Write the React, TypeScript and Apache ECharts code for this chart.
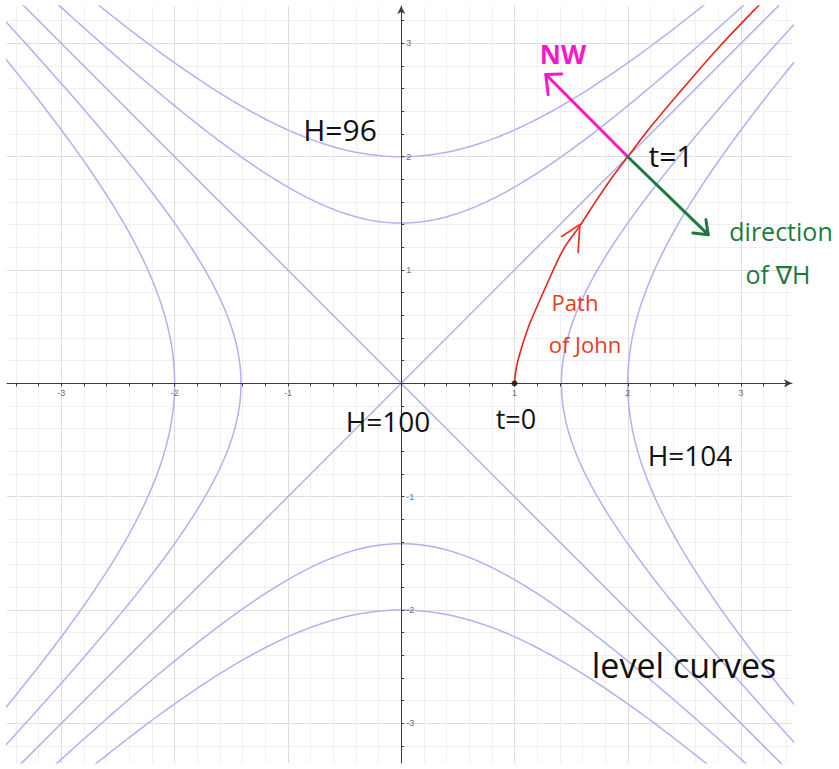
import React, { useEffect, useRef } from "react";
import * as echarts from "echarts";

// ---- data ----
// Level curves of H(x, y) = 100 + x^2 - y^2
const LEVELS = [96, 98, 100, 102, 104];
const H_BASE = 100;

// Path of John
const PATH_X = [1.0, 1.01, 1.03, 1.077, 1.136, 1.253, 1.43, 1.577, 1.72, 1.857, 2.0, 2.224, 2.519, 2.813, 3.151, 3.3];
const PATH_Y = [0.0, 0.1, 0.2, 0.36, 0.53, 0.8, 1.18, 1.39, 1.61, 1.81, 2.0, 2.29, 2.64, 2.975, 3.33, 3.48];

// Start point (t = 0)
const START = [1, 0];

// Direction arrows at t = 1
const NW_ARROW = [[2, 2], [1.277, 2.725]];
const NW_HEAD = [[1.416, 2.731], [1.277, 2.725], [1.297, 2.548]];
const GRAD_ARROW = [[2, 2], [2.71, 1.312]];
const GRAD_HEAD = [[2.69, 1.445], [2.71, 1.312], [2.575, 1.327]];
const PATH_HEAD = [[1.416, 1.297], [1.577, 1.401], [1.562, 1.156]];

// Axis tick labels
const X_TICK_LABELS = [-3, -2, -1, 1, 2, 3];
const Y_TICK_LABELS = [-3, -2, -1, 1, 2, 3];
const MAJOR_GRID = [-3, -2, -1, 0, 1, 2, 3];

// ---- layout ----
const XMIN = -3.48, XMAX = 3.45, YMIN = -3.35, YMAX = 3.33;
const CURVE_COLOR = "#b1b1f2";
const HAND_FONT = "'Open Sans', 'DejaVu Sans', sans-serif";
const TICK_FONT = "'Liberation Sans', Arial, sans-serif";

function steps(min: number, max: number, skipIntegers: boolean, skipZero: boolean) {
  const out: number[] = [];
  for (let k = Math.ceil(min * 5); k <= Math.floor(max * 5); k++) {
    if (skipIntegers && k % 5 === 0) continue;
    if (skipZero && k === 0) continue;
    out.push(Math.round(k * 20) / 100);
  }
  return out;
}

function levelBranches(level: number): number[][][] {
  const c = level - H_BASE;
  const us: number[] = [];
  for (let i = -130; i <= 130; i++) us.push(i / 50);
  if (c === 0) {
    return [
      [[-4, -4], [4, 4]],
      [[-4, 4], [4, -4]],
    ];
  }
  const a = Math.sqrt(Math.abs(c));
  if (c > 0) {
    return [
      us.map((u) => [a * Math.cosh(u), a * Math.sinh(u)]),
      us.map((u) => [-a * Math.cosh(u), a * Math.sinh(u)]),
    ];
  }
  return [
    us.map((u) => [a * Math.sinh(u), a * Math.cosh(u)]),
    us.map((u) => [a * Math.sinh(u), -a * Math.cosh(u)]),
  ];
}

function gridAxis(min: number, max: number, values: number[], color: string, position: string) {
  return {
    type: "value",
    min,
    max,
    position,
    axisLine: { show: false, onZero: false },
    axisTick: { show: false, customValues: values },
    axisLabel: { show: false },
    splitLine: { show: true, lineStyle: { color, width: 1 } },
  };
}

export default function App() {
  const ref = useRef<HTMLDivElement>(null);

  useEffect(() => {
    if (!ref.current) return;
    const chart = echarts.init(ref.current, null, { renderer: "svg" });

    const series: any[] = [];
    LEVELS.forEach((lv) => {
      levelBranches(lv).forEach((pts, i) => {
        series.push({
          type: "line",
          name: "H=" + lv + "-" + i,
          data: pts,
          showSymbol: false,
          silent: true,
          clip: true,
          lineStyle: { color: CURVE_COLOR, width: 1.5 },
          z: 3,
        });
      });
    });

    series.push({
      type: "line",
      name: "Path of John",
      data: PATH_X.map((x, i) => [x, PATH_Y[i]]),
      showSymbol: false,
      smooth: 0.3,
      clip: true,
      silent: true,
      lineStyle: { color: "#e8231c", width: 1.6 },
      z: 5,
    });

    const seg = (name: string, data: number[][], color: string, width: number) => ({
      type: "line",
      name,
      data,
      showSymbol: false,
      silent: true,
      clip: false,
      lineStyle: { color, width, cap: "round", join: "round" },
      z: 6,
    });
    series.push(seg("NW", NW_ARROW, "#f719c6", 3));
    series.push(seg("NW head", NW_HEAD, "#f719c6", 3));
    series.push(seg("grad", GRAD_ARROW, "#1c7a3e", 3));
    series.push(seg("grad head", GRAD_HEAD, "#1c7a3e", 3));
    series.push(seg("path head", PATH_HEAD, "#ea3a22", 1.8));

    series.push({
      type: "scatter",
      name: "start",
      data: [START],
      symbolSize: 6,
      itemStyle: { color: "#111" },
      silent: true,
      z: 7,
    });

    // tick labels placed on the axes through the origin
    series.push({
      type: "scatter",
      name: "x tick labels",
      data: X_TICK_LABELS.map((v) => [v, 0]),
      symbolSize: 0,
      silent: true,
      z: 8,
      label: {
        show: true,
        position: "bottom",
        distance: 5,
        formatter: (p: any) => String(p.value[0]),
        fontSize: 9,
        color: "#444",
        fontFamily: TICK_FONT,
      },
    });
    series.push({
      type: "scatter",
      name: "y tick labels",
      data: Y_TICK_LABELS.map((v) => [0, v]),
      symbolSize: 0,
      silent: true,
      z: 8,
      label: {
        show: true,
        position: "right",
        distance: 5,
        formatter: (p: any) => String(p.value[1]),
        fontSize: 9,
        color: "#444",
        fontFamily: TICK_FONT,
      },
    });

    const txt = (text: string, x: number, y: number, size: number, color: string, extra: any = {}) => ({
      type: "text",
      x,
      y,
      z: 100,
      style: {
        text,
        fill: color,
        fontSize: size,
        lineHeight: Math.round(size * 0.9),
        fontFamily: HAND_FONT,
        align: "center",
        verticalAlign: "middle",
        ...extra,
      },
    });

    chart.setOption({
      animation: false,
      backgroundColor: "#ffffff",
      grid: { left: 7, top: 6, width: 785, height: 757, containLabel: false, outerBoundsMode: "none" },
      xAxis: [
        {
          type: "value",
          min: XMIN,
          max: XMAX,
          position: "bottom",
          axisLine: {
            show: true,
            onZero: true,
            symbol: ["none", "arrow"],
            symbolSize: [6, 8],
            lineStyle: { color: "#3c3c3c", width: 1 },
          },
          axisTick: {
            show: true,
            inside: false,
            length: 3,
            customValues: steps(XMIN, XMAX, false, true),
            lineStyle: { color: "#3c3c3c" },
          },
          axisLabel: { show: false },
          splitLine: { show: false },
          z: 4,
        },
        gridAxis(XMIN, XMAX, steps(XMIN, XMAX, true, true), "#f0f0f0", "top"),
        gridAxis(XMIN, XMAX, MAJOR_GRID, "#dddddd", "top"),
      ],
      yAxis: [
        {
          type: "value",
          min: YMIN,
          max: YMAX,
          position: "left",
          axisLine: {
            show: true,
            onZero: true,
            symbol: ["none", "arrow"],
            symbolSize: [6, 8],
            lineStyle: { color: "#3c3c3c", width: 1 },
          },
          axisTick: {
            show: true,
            inside: true,
            length: 3,
            customValues: steps(YMIN, YMAX, false, true),
            lineStyle: { color: "#3c3c3c" },
          },
          axisLabel: { show: false },
          splitLine: { show: false },
          z: 4,
        },
        gridAxis(YMIN, YMAX, steps(YMIN, YMAX, true, true), "#f0f0f0", "right"),
        gridAxis(YMIN, YMAX, MAJOR_GRID, "#dddddd", "right"),
      ],
      series,
      graphic: [
        txt("H=96", 340, 129, 30, "#111"),
        txt("NW", 563, 54, 26, "#f719c6", { fontWeight: "bold" }),
        txt("t=1", 671, 155, 30, "#111"),
        txt("direction", 781, 231, 25, "#1c7a3e"),
        txt("of \u2207H", 778, 274, 25, "#1c7a3e"),
        txt("Path", 575, 302, 22, "#ea3a22"),
        txt("of John", 585, 344, 22, "#ea3a22"),
        txt("H=100", 388, 421, 28, "#111"),
        txt("t=0", 516, 418, 27, "#111"),
        txt("H=104", 690, 455, 28, "#111"),
        txt("level curves", 684, 665, 34, "#111"),
      ],
    });

    return () => chart.dispose();
  }, []);

  return (
    <div
      ref={ref}
      style={{ position: "fixed", left: 0, top: 0, width: 839, height: 769 }}
    />
  );
}
